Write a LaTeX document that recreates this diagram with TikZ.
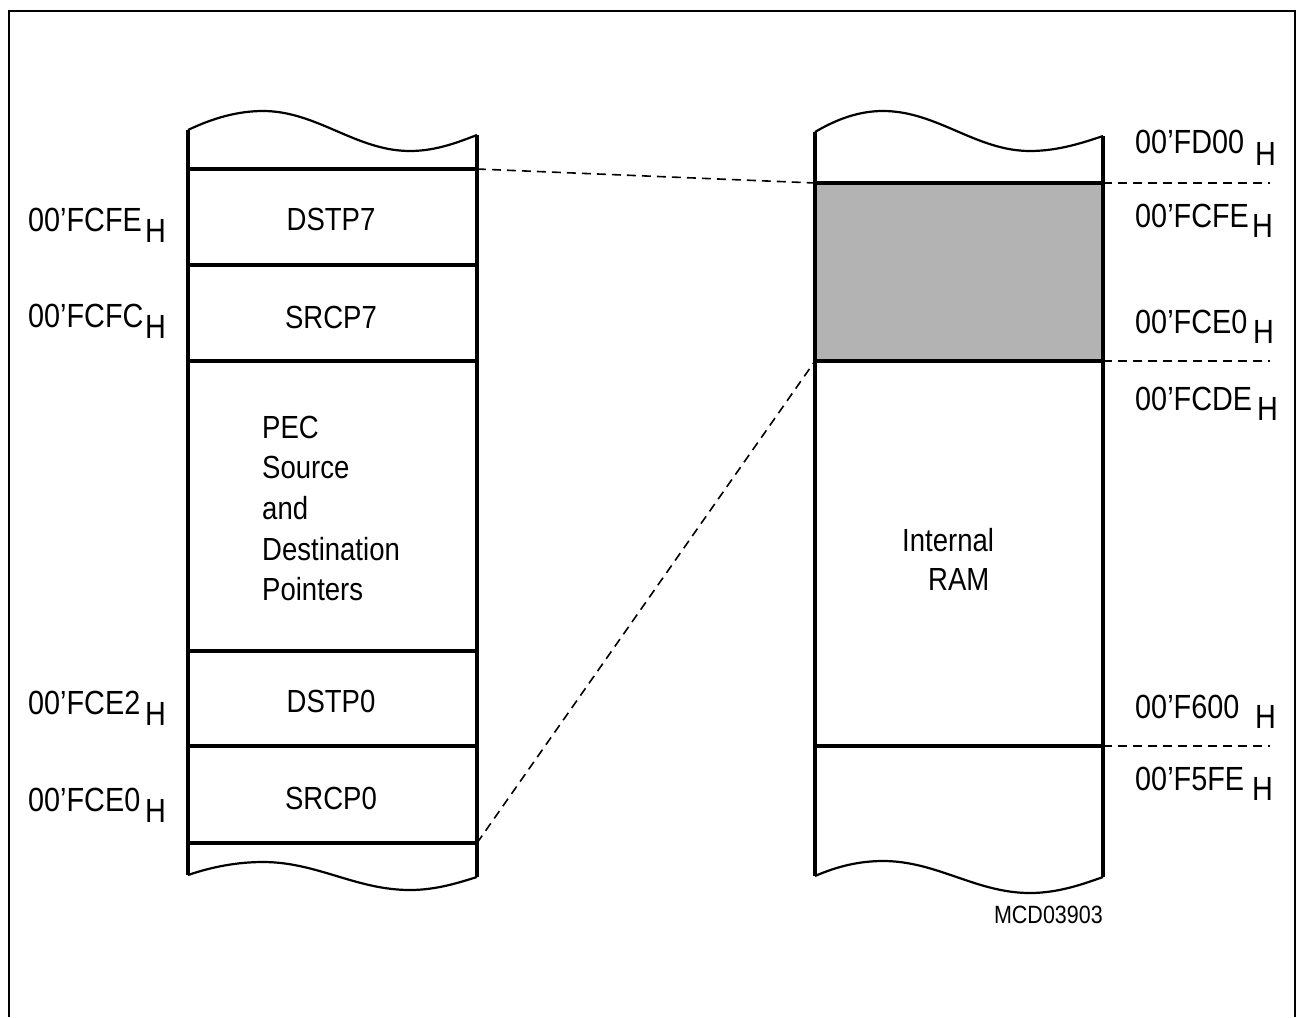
\documentclass[tikz,border=0pt]{standalone}
\usepackage{fontspec}
\setmainfont{Liberation Sans}[FakeStretch=0.86]
\definecolor{ramgray}{RGB}{179,179,179}
\begin{document}
\begin{tikzpicture}[x=1pt,y=-1pt,
  heavy/.style={line width=4.6pt},
  wavyline/.style={line width=2.2pt},
  dashline/.style={line width=1.6pt, dash pattern=on 9pt off 6pt},
  addr/.style={inner sep=0pt, anchor=base west, font=\fontsize{33.5}{40}\selectfont},
  cell/.style={inner sep=0pt, anchor=base, font=\fontsize{32}{40.7}\selectfont},
  block/.style={inner sep=0pt, anchor=north west, align=left},
  tag/.style={inner sep=0pt, anchor=base east, font=\fontsize{25}{30}\selectfont}
]
\useasboundingbox (0,0) rectangle (1297,1017);
% frame (open at the bottom)
\draw[line width=2pt] (9,1017) -- (9,11) -- (1295,11) -- (1295,1017);

% ---------- left column ----------
\coordinate (LT) at (477,169);
\coordinate (LB) at (477,843);
\draw[heavy] (188,130) -- (188,875);
\draw[heavy] (477,135) -- (477,877);
\foreach \yy in {169,265,361,651,746,843}
  \draw[heavy] (188,\yy) -- (477,\yy);
\draw[wavyline, shift={(188,130)}] (0,0) .. controls (25,-12) and (50,-19) .. (75,-19)
  .. controls (129,-19) and (168,21) .. (222,21) .. controls (249,21) and (272,11.4) .. (289,5);
\draw[wavyline, shift={(188,875)}] (0,0) .. controls (25,-8.5) and (50,-13) .. (75,-13)
  .. controls (129,-13) and (168,15) .. (222,15) .. controls (249,15) and (272,7.2) .. (289,2);

% ---------- right column ----------
\coordinate (RT) at (815,183);
\coordinate (RB) at (815,361);
\fill[ramgray] (815,183) rectangle (1103,361);
\draw[heavy] (815,132) -- (815,876);
\draw[heavy] (1103,136) -- (1103,877);
\foreach \yy in {183,361,746}
  \draw[heavy] (815,\yy) -- (1103,\yy);
\draw[wavyline, shift={(815,132)}] (0,0) .. controls (23,-13.6) and (45,-21) .. (68,-21)
  .. controls (122,-21) and (161,19) .. (215,19) .. controls (244,19) and (270,10) .. (288,4);
\draw[wavyline, shift={(815,876)}] (0,0) .. controls (23,-10) and (45,-15) .. (68,-15)
  .. controls (122,-15) and (161,17) .. (215,17) .. controls (244,17) and (270,7.4) .. (288,1);

% ---------- dashed connectors ----------
\draw[dashline] (LT) -- (RT);
\draw[dashline] (LB) -- (RB);
\coordinate (D1a) at (1103,183); \coordinate (D1b) at (1270,183);
\coordinate (D2a) at (1103,361); \coordinate (D2b) at (1270,361);
\coordinate (D3a) at (1103,746); \coordinate (D3b) at (1270,746);
\draw[dashline] (D1a) -- (D1b);
\draw[dashline] (D2a) -- (D2b);
\draw[dashline] (D3a) -- (D3b);

% ---------- left labels ----------
\node[addr] (aL1) at (28,231) {00’FCFE}; \node[addr] (hL1) at (145,242) {H};
\node[addr] (aL2) at (28,327) {00’FCFC}; \node[addr] (hL2) at (145,338) {H};
\node[addr] (aL3) at (28,714) {00’FCE2}; \node[addr] (hL3) at (145,725) {H};
\node[addr] (aL4) at (28,811) {00’FCE0}; \node[addr] (hL4) at (145,822) {H};

% ---------- right labels ----------
\node[addr] (aR1) at (1135,153) {00’FD00}; \node[addr] (hR1) at (1255,165) {H};
\node[addr] (aR2) at (1135,227) {00’FCFE}; \node[addr] (hR2) at (1252,237) {H};
\node[addr] (aR3) at (1135,333) {00’FCE0}; \node[addr] (hR3) at (1253,343) {H};
\node[addr] (aR4) at (1135,410) {00’FCDE}; \node[addr] (hR4) at (1257,420) {H};
\node[addr] (aR5) at (1135,718) {00’F600}; \node[addr] (hR5) at (1255,728) {H};
\node[addr] (aR6) at (1135,790) {00’F5FE}; \node[addr] (hR6) at (1252,800) {H};

% ---------- cell texts ----------
\node[cell] (dstp7) at (331,230) {DSTP7};
\node[cell] (srcp7) at (331,328) {SRCP7};
\node[cell] (dstp0) at (331,712) {DSTP0};
\node[cell] (srcp0) at (331,809) {SRCP0};
\node[block, font=\fontsize{32}{40.7}\selectfont] (pec) at (262,415.5)
  {PEC\\Source\\and\\Destination\\Pointers};
\node[block, font=\fontsize{32}{39}\selectfont] (ram) at (902,528.5)
  {Internal\\\hspace*{26pt}RAM};
\node[tag] (mcd) at (1103,923) {MCD03903};
\end{tikzpicture}
\end{document}
